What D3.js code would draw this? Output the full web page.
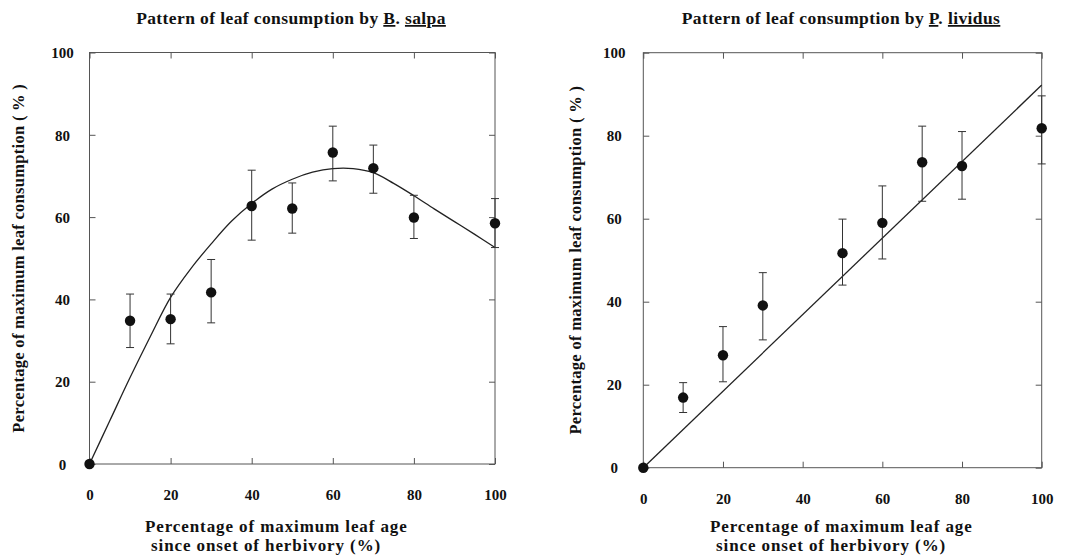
<!DOCTYPE html>
<html>
<head>
<meta charset="utf-8">
<script src="https://cdn.jsdelivr.net/npm/d3@7"></script>
<style>
  body { margin: 0; background: #fff; }
  svg text { font-family: "Liberation Serif", "DejaVu Serif", serif; fill: #111; }
</style>
</head>
<body>
<div id="chart"></div>
<script>
// ---- data ----
// B. salpa
var salpaAge   = [0, 10, 20, 30, 40, 50, 60, 70, 80, 100];
var salpaMean  = [0, 34.8, 35.2, 41.7, 62.7, 62.1, 75.7, 71.9, 59.9, 58.5];
var salpaUpper = [0, 41.3, 41.3, 49.7, 71.4, 68.3, 82.1, 77.5, 65.3, 64.5];
var salpaLower = [0, 28.3, 29.2, 34.3, 54.4, 56.1, 68.8, 65.8, 54.8, 52.6];
// fitted curve (B. salpa)
var salpaFitAge = [0, 5, 10, 15, 20, 25, 30, 35, 40, 45, 50, 55, 60, 65, 70, 75, 80, 85, 90, 95, 100];
var salpaFit    = [0, 10.5, 21, 31, 40.5, 47.5, 53.5, 59, 63.3, 66.8, 69.2, 70.9, 71.8, 71.8, 70.8, 68.2, 65.2, 62, 58.9, 55.8, 52.6];

// P. lividus
var lividusAge   = [0, 10, 20, 30, 50, 60, 70, 80, 100];
var lividusMean  = [0, 16.9, 27.1, 39.1, 51.7, 59.0, 73.6, 72.7, 81.8];
var lividusUpper = [0, 20.5, 34.0, 47.0, 59.9, 67.9, 82.3, 81.0, 89.6];
var lividusLower = [0, 13.3, 20.7, 30.8, 44.0, 50.3, 64.2, 64.7, 73.2];
// fitted line (P. lividus)
var lividusFitAge = [0, 100];
var lividusFit    = [0, 92.2];

var tickVals = [0, 20, 40, 60, 80, 100];
var xTitle1 = "Percentage of maximum leaf age";
var xTitle2 = "since onset of herbivory (%)";
var yTitle = "Percentage of maximum leaf consumption ( % )";

var W = 1065, H = 559;
var svg = d3.select("#chart").append("svg")
  .attr("width", W)
  .attr("height", H);

function drawPanel(p) {
  var x = d3.scaleLinear().domain([0, 100]).range([p.x0, p.x1]);
  var y = d3.scaleLinear().domain([0, 100]).range([p.y0, p.y1]);
  var g = svg.append("g");

  // frame
  g.append("rect")
    .attr("x", x(0)).attr("y", y(100))
    .attr("width", x(100) - x(0)).attr("height", y(0) - y(100))
    .attr("fill", "none").attr("stroke", "#555").attr("stroke-width", 1);

  // axes, ticks pointing inward
  var bottom = g.append("g").attr("transform", "translate(0," + y(0) + ")")
    .call(d3.axisBottom(x).tickValues(tickVals).tickSizeInner(-6).tickSizeOuter(0).tickPadding(28));
  var left = g.append("g").attr("transform", "translate(" + x(0) + ",0)")
    .call(d3.axisLeft(y).tickValues(tickVals).tickSizeInner(-6).tickSizeOuter(0).tickPadding(p.yPad));
  g.append("g").attr("transform", "translate(0," + y(100) + ")")
    .call(d3.axisTop(x).tickValues(tickVals).tickSizeInner(-6).tickSizeOuter(0).tickFormat(""));
  g.append("g").attr("transform", "translate(" + x(100) + ",0)")
    .call(d3.axisRight(y).tickValues(tickVals).tickSizeInner(-6).tickSizeOuter(0).tickFormat(""));

  g.selectAll(".domain").remove();
  g.selectAll(".tick line").attr("stroke", "#555");
  bottom.selectAll("text").attr("font-size", 15).attr("font-weight", "bold")
    .attr("font-family", "Liberation Serif").attr("dy", "0.55em");
  left.selectAll("text").attr("font-size", 15).attr("font-weight", "bold")
    .attr("font-family", "Liberation Serif").attr("text-anchor", "middle").attr("dy", "0.35em");

  // fitted curve / line
  var fit = p.fitAge.map(function(a, i) { return [a, p.fit[i]]; });
  g.append("path")
    .datum(fit)
    .attr("fill", "none").attr("stroke", "#222").attr("stroke-width", 1.3)
    .attr("d", d3.line()
      .x(function(d) { return x(d[0]); })
      .y(function(d) { return y(d[1]); })
      .curve(d3.curveCatmullRom));

  // error bars
  var pts = p.age.map(function(a, i) {
    return { a: a, m: p.mean[i], hi: p.upper[i], lo: p.lower[i] };
  });
  var eb = g.selectAll(".eb").data(pts.filter(function(d) { return d.hi > d.lo; }))
    .enter().append("g").attr("class", "eb")
    .attr("stroke", "#333").attr("stroke-width", 1);
  eb.append("line")
    .attr("x1", function(d) { return x(d.a); }).attr("x2", function(d) { return x(d.a); })
    .attr("y1", function(d) { return y(d.hi); }).attr("y2", function(d) { return y(d.lo); });
  eb.append("line")
    .attr("x1", function(d) { return x(d.a) - 4; }).attr("x2", function(d) { return x(d.a) + 4; })
    .attr("y1", function(d) { return y(d.hi); }).attr("y2", function(d) { return y(d.hi); });
  eb.append("line")
    .attr("x1", function(d) { return x(d.a) - 4; }).attr("x2", function(d) { return x(d.a) + 4; })
    .attr("y1", function(d) { return y(d.lo); }).attr("y2", function(d) { return y(d.lo); });

  // points
  g.selectAll(".pt").data(pts).enter().append("circle")
    .attr("class", "pt")
    .attr("cx", function(d) { return x(d.a); })
    .attr("cy", function(d) { return y(d.m); })
    .attr("r", 5.2)
    .attr("fill", "#111");

  // title with underlined species name
  var t = svg.append("text")
    .attr("x", p.titleX).attr("y", 24)
    .attr("text-anchor", "middle")
    .attr("font-size", 17.5).attr("font-weight", "bold").attr("letter-spacing", 0.4);
  t.append("tspan").text("Pattern of leaf consumption by ");
  t.append("tspan").attr("text-decoration", "underline").text(p.genus);
  t.append("tspan").text(". ");
  t.append("tspan").attr("text-decoration", "underline").text(p.species);

  // axis titles
  svg.append("text").attr("x", p.xTitleX).attr("y", 532)
    .attr("font-size", 17).attr("font-weight", "bold").attr("letter-spacing", 0.9)
    .text(xTitle1);
  svg.append("text").attr("x", p.xTitleX + 6).attr("y", 550.5)
    .attr("font-size", 17).attr("font-weight", "bold").attr("letter-spacing", 0.9)
    .text(xTitle2);
  svg.append("text")
    .attr("transform", "translate(" + p.yTitleX + "," + ((y(0) + y(100)) / 2) + ") rotate(-90)")
    .attr("text-anchor", "middle").attr("font-size", 16.5).attr("font-weight", "bold")
    .attr("letter-spacing", 0.3)
    .text(yTitle);
}

drawPanel({
  x0: 89.5, x1: 495, y0: 464, y1: 52.5,
  age: salpaAge, mean: salpaMean, upper: salpaUpper, lower: salpaLower,
  fitAge: salpaFitAge, fit: salpaFit,
  genus: "B", species: "salpa", titleX: 291, xTitleX: 145, yTitleX: 24, yPad: 27
});

drawPanel({
  x0: 643.3, x1: 1041.7, y0: 467.7, y1: 52.7,
  age: lividusAge, mean: lividusMean, upper: lividusUpper, lower: lividusLower,
  fitAge: lividusFitAge, fit: lividusFit,
  genus: "P", species: "lividus", titleX: 841, xTitleX: 710, yTitleX: 581, yPad: 29
});
</script>
</body>
</html>
